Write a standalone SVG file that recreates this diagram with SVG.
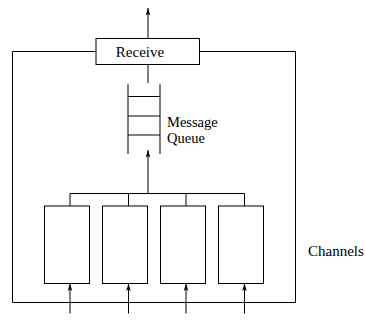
<svg xmlns="http://www.w3.org/2000/svg" width="365" height="323" viewBox="0 0 365 323">
<defs>
<marker id="ah" markerUnits="userSpaceOnUse" markerWidth="9" markerHeight="8" viewBox="-8 -4 9 8" refX="0" refY="0" orient="auto">
<path d="M0,0 L-7.5,-2.3 L-5.8,0 L-7.5,2.3 Z" fill="#000"/>
</marker>
<style>
.ln{stroke:#000;stroke-width:1;fill:none}
.bx{stroke:#000;stroke-width:1;fill:#fff}
.t{font-family:"Liberation Serif","Times New Roman",serif;font-size:15px;fill:#000}
.q{font-size:14.5px}
</style>
</defs>
<rect width="365" height="323" fill="#fff"/>
<g id="frame">
<path class="ln" d="M96,51.5 H12.5 V302.5 H295.5 V51.5 H199.5"/>
</g>
<g id="connectors">
<line class="ln" x1="148" y1="38.5" x2="148" y2="8" marker-end="url(#ah)"/>
<line class="ln" x1="148" y1="64.5" x2="148" y2="83"/>
<line class="ln" x1="148" y1="193.5" x2="148" y2="150" marker-end="url(#ah)"/>
<path class="ln" d="M70,206 V193.5 H244.5 V206 M128.5,193.5 V206 M186,193.5 V206"/>
<line class="ln" x1="70" y1="313.5" x2="70" y2="283.5" marker-end="url(#ah)"/>
<line class="ln" x1="128.5" y1="313.5" x2="128.5" y2="283.5" marker-end="url(#ah)"/>
<line class="ln" x1="186" y1="313.5" x2="186" y2="283.5" marker-end="url(#ah)"/>
<line class="ln" x1="244.5" y1="313.5" x2="244.5" y2="283.5" marker-end="url(#ah)"/>
</g>
<g id="receive">
<rect class="bx" x="96" y="38.5" width="103.5" height="26"/>
<text class="t" x="140" y="57" text-anchor="middle">Receive</text>
</g>
<g id="queue">
<path class="ln" d="M128,84 V154 M160,84 V154 M128,96.5 H160 M128,116 H160 M128,135 H160"/>
<text class="t q" x="167" y="127">Message</text>
<text class="t q" x="167" y="143">Queue</text>
</g>
<g id="ch1"><rect class="bx" x="44.5" y="206" width="45" height="77.5"/></g>
<g id="ch2"><rect class="bx" x="102.5" y="206" width="45" height="77.5"/></g>
<g id="ch3"><rect class="bx" x="160.5" y="206" width="45" height="77.5"/></g>
<g id="ch4"><rect class="bx" x="218.5" y="206" width="45" height="77.5"/></g>
<g id="channels-label">
<text class="t" x="308" y="256">Channels</text>
</g>
</svg>
